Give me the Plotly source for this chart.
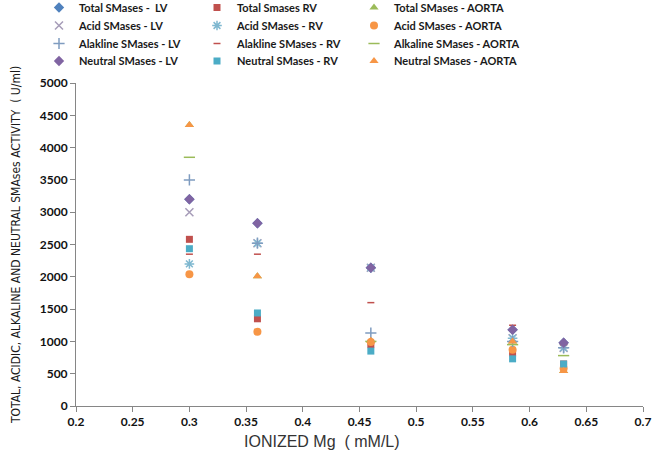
import plotly.graph_objects as go

x_vals = [0.30, 0.36, 0.46, 0.585, 0.63]

total_lv = [3200, 2830, 2140, 1180, 980]
total_rv = [2580, 1350, 950, 820, 650]
total_aorta = [4350, 2010, 1010, 1000, 540]
acid_lv = [3000, 2520, 2140, 1050, 900]
acid_rv = [2200, 2520, 2140, 1050, 900]
acid_aorta = [2040, 1150, 990, 870, 580]
alk_lv = [3500, 2520, 1130, 1000, 900]
alk_rv = [2350, 2350, 1600, 1250, 950]
alk_aorta = [3850, None, 1000, 950, 780]
neutral_lv = [3200, 2830, 2140, 1180, 980]
neutral_rv = [2435, 1440, 850, 730, 650]
neutral_aorta = [4350, 2010, 1010, 1000, 540]

x_title = "IONIZED\u00a0Mg\u00a0\u00a0(\u00a0mM/L)"
y_title = "TOTAL, ACIDIC, ALKALINE AND NEUTRAL SMAses ACTIVITY\u00a0\u00a0(\u00a0U/ml)"

BLUE = "#4F81BD"; RED = "#C0504D"; GREEN = "#9BBB59"
PURPLE = "#8064A2"; CYAN = "#4BACC6"; ORANGE = "#F79646"

# (name, values, symbol, colour, size, legend column, legend row)
series = [
    ("Total SMases -  LV", total_lv, "diamond", BLUE, 8, 0, 0),
    ("Acid SMases - LV", acid_lv, "x-thin-open", "#A69CB8", 8, 0, 1),
    ("Alakline SMases - LV", alk_lv, "cross-thin-open", "#7F9CC0", 8, 0, 2),
    ("Neutral SMases - LV", neutral_lv, "diamond", PURPLE, 8, 0, 3),
    ("Total Smases RV", total_rv, "square", RED, 7, 1, 0),
    ("Acid SMases - RV", acid_rv, "asterisk-open", "#7FB8D0", 8, 1, 1),
    ("Alakline SMases - RV", alk_rv, "line-ew-open", RED, 5, 1, 2),
    ("Neutral SMases - RV", neutral_rv, "square", CYAN, 7, 1, 3),
    ("Total SMases - AORTA", total_aorta, "triangle-up", GREEN, 8, 2, 0),
    ("Acid SMases - AORTA", acid_aorta, "circle", ORANGE, 8, 2, 1),
    ("Alkaline SMases - AORTA", alk_aorta, "line-ew-open", GREEN, 8, 2, 2),
    ("Neutral SMases - AORTA", neutral_aorta, "triangle-up", ORANGE, 8, 2, 3),
]

draw_order = [0, 4, 8, 1, 5, 9, 2, 6, 10, 3, 7, 11]

# plot area: x 76..643 px, y 83..406 px
L, T = 76, 83
PW, PH = 567.0, 323.0
W, H = 654, 464
col_text_x = [79, 237, 394]
row_center_y = [7, 25, 43, 60.5]

legfont = dict(family="Lato, Open Sans, sans-serif", size=11, color="#1a1a1a", weight="bold")

fig = go.Figure()
legends = {}
for k, i in enumerate(draw_order):
    name, vals, sym, col, size, c, r = series[i]
    lid = "legend" if i == 0 else f"legend{i + 1}"
    fig.add_trace(go.Scatter(
        x=x_vals, y=vals, mode="markers", name=name, legend=lid,
        marker=dict(symbol=sym, color=col, size=size,
                    line=dict(color=col, width=1.5 if "open" in sym else 0)),
    ))
    top_px = row_center_y[r] - 14
    legends[lid] = dict(
        x=(col_text_x[c] - 40 - L) / PW, y=1 + (T - top_px) / PH,
        xanchor="left", yanchor="top", orientation="v",
        font=legfont, bgcolor="rgba(0,0,0,0)", itemwidth=30,
    )

fig.update_layout(
    width=W, height=H,
    margin=dict(l=L, r=W - L - PW, t=T, b=H - T - PH, autoexpand=False),
    paper_bgcolor="white", plot_bgcolor="white",
    showlegend=True,
    annotations=[dict(text=x_title, xref="paper", yref="paper",
                      x=(322 - L) / PW, y=-(441 - (T + PH)) / PH,
                      xanchor="center", yanchor="middle", showarrow=False,
                      font=dict(family="Liberation Sans, Arial, sans-serif", size=16, color="#333333"))],
    **legends,
)
fig.update_xaxes(
    range=[0.2, 0.7], dtick=0.05, tick0=0.2, showgrid=False, zeroline=False,
    showline=True, linecolor="#868686", linewidth=1, ticks="outside",
    tickcolor="#868686", ticklen=5, ticklabeloverflow="allow",
    tickfont=dict(family="Lato, Open Sans, sans-serif", size=12, color="#111111", weight=700),
)
fig.update_yaxes(
    range=[0, 5000], dtick=500, showgrid=False, zeroline=False,
    showline=True, linecolor="#868686", linewidth=1, ticks="outside",
    tickcolor="#868686", ticklen=5,
    tickfont=dict(family="Lato, Open Sans, sans-serif", size=12, color="#111111", weight=700),
    title=dict(text=y_title,
               font=dict(family="Liberation Sans Narrow, DejaVu Sans Condensed, Arial Narrow, sans-serif",
                         size=12, color="#1a1a1a"),
               standoff=16),
)
fig.write_html("out.html", config={"displayModeBar": False},
               post_script="document.body.style.margin='0';")
